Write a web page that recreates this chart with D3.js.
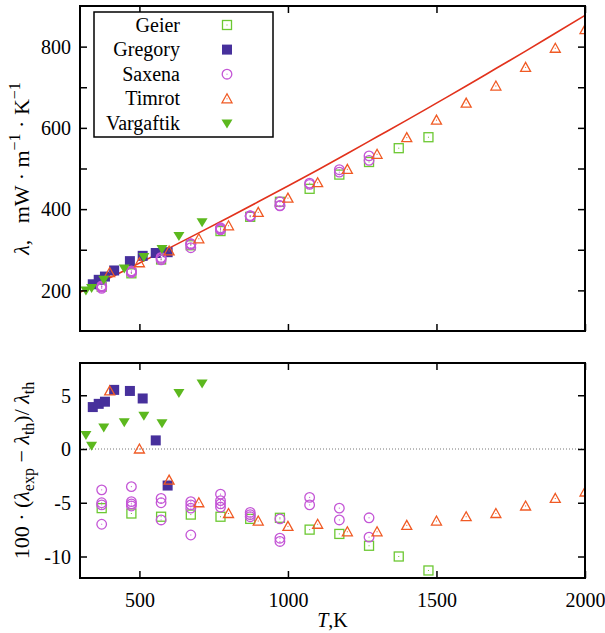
<!DOCTYPE html>
<html>
<head>
<meta charset="utf-8">
<script src="https://cdn.jsdelivr.net/npm/d3@7"></script>
<style>
  body { margin: 0; background: #fff; }
  svg text { font-family: "Liberation Serif", "DejaVu Serif", serif; fill: #000; }
</style>
</head>
<body>
<div id="chart"></div>
<script>
// theoretical curve lambda_th(T)
var thT   = [300, 400, 500, 600, 700, 800, 900, 1000, 1100, 1200, 1300, 1400, 1500, 1600, 1700, 1800, 1900, 2000];
var thLam = [195, 231, 267, 304, 341.5, 379.5, 418, 457, 496.5, 537, 578, 619, 661, 703, 746, 789, 833, 877];

// experimental series: T, lambda, deviation %
var geierT   = [373, 473, 573, 673, 773, 873, 973, 1073, 1173, 1273, 1373, 1473];
var geierLam = [209, 242, 276, 311, 346, 381, 418, 450, 485, 516, 550, 577];
var geierDev = [-5.5, -6.0, -6.3, -6.1, -6.3, -6.5, -6.4, -7.5, -7.9, -9.0, -10.0, -11.3];

var gregoryT   = [343, 363, 384, 415, 468, 511, 555, 595];
var gregoryLam = [215, 226, 234, 249, 272, 285, 292, 294];
var gregoryDev = [3.9, 4.2, 4.4, 5.5, 5.4, 4.7, 0.8, -3.4];

var saxenaT   = [373, 373, 373, 373, 473, 473, 473, 473, 573, 573, 573, 673, 673, 673, 673,
                 773, 773, 773, 773, 873, 873, 873, 973, 973, 973, 1073, 1073, 1173, 1173, 1273, 1273];
var saxenaLam = [211, 209, 208, 205, 248, 245, 244, 244, 281, 279, 275, 315, 314, 313, 305,
                 354, 352, 350, 349, 384, 383, 382, 418, 409, 408, 464, 461, 497, 491, 531, 520];
var saxenaDev = [-3.8, -5.0, -5.2, -7.0, -3.5, -4.9, -5.1, -5.3, -4.6, -5.0, -6.6, -4.9, -5.2, -5.5, -8.0,
                 -4.2, -4.8, -5.1, -5.4, -5.9, -6.1, -6.3, -6.5, -8.3, -8.6, -4.5, -5.2, -5.5, -6.6, -6.4, -8.2];

var timrotT   = [400, 500, 600, 700, 800, 900, 1000, 1100, 1200, 1300, 1400, 1500, 1600, 1700, 1800, 1900, 2000];
var timrotLam = [244, 268, 297, 327, 359, 392, 427, 465, 498, 535, 576, 619, 661, 703, 749, 796, 842];
var timrotDev = [5.4, 0.0, -2.9, -5.0, -6.0, -6.7, -7.2, -7.0, -7.7, -7.7, -7.1, -6.7, -6.3, -6.0, -5.3, -4.6, -4.0];

var vargaftikT   = [320, 339, 380, 449, 515, 576, 633, 711];
var vargaftikLam = [200, 206, 226, 254, 282, 302, 334, 368];
var vargaftikDev = [1.3, 0.3, 2.0, 2.5, 3.1, 2.4, 5.2, 6.1];

var xTicks = [500, 1000, 1500, 2000];
var topYTicks = [200, 300, 400, 500, 600, 700, 800];
var botYTicks = [-10, -5, 0, 5];

var FONT = '"Liberation Serif", "DejaVu Serif", serif';
var W = 605, H = 633;
var svg = d3.select("#chart").append("svg")
    .attr("width", W).attr("height", H);

var left = 80, right = 585;
var topPanel = {t: 6, b: 331};
var botPanel = {t: 363, b: 578};

var x = d3.scaleLinear().domain([300, 2000]).range([left, right]);
var yTop = d3.scaleLinear().domain([100, 900]).range([topPanel.b, topPanel.t]);
var yBot = d3.scaleLinear().domain([-12, 8]).range([botPanel.b, botPanel.t]);

var series = [
  {name: "Geier",     T: geierT,     lam: geierLam,     dev: geierDev,     kind: "osq",  color: "#6cc832"},
  {name: "Gregory",   T: gregoryT,   lam: gregoryLam,   dev: gregoryDev,   kind: "fsq",  color: "#47309c"},
  {name: "Saxena",    T: saxenaT,    lam: saxenaLam,    dev: saxenaDev,    kind: "ocir", color: "#c456d6"},
  {name: "Timrot",    T: timrotT,    lam: timrotLam,    dev: timrotDev,    kind: "otri", color: "#f05a24"},
  {name: "Vargaftik", T: vargaftikT, lam: vargaftikLam, dev: vargaftikDev, kind: "ftri", color: "#5cb81e"}
];

function marker(g, kind, color) {
  if (kind == "osq") {
    g.append("rect").attr("x", -4.5).attr("y", -4.5).attr("width", 9).attr("height", 9)
      .attr("fill", "none").attr("stroke", color).attr("stroke-width", 1.3);
  } else if (kind == "fsq") {
    g.append("rect").attr("x", -5).attr("y", -5).attr("width", 10).attr("height", 10)
      .attr("fill", color);
  } else if (kind == "ocir") {
    g.append("circle").attr("r", 4.8)
      .attr("fill", "none").attr("stroke", color).attr("stroke-width", 1.3);
  } else if (kind == "otri") {
    g.append("path").attr("d", "M0,-5L5,4L-5,4Z")
      .attr("fill", "none").attr("stroke", color).attr("stroke-width", 1.3);
  } else if (kind == "ftri") {
    g.append("path").attr("d", "M-5.5,-4L5.5,-4L0,5Z").attr("fill", color);
  }
  if (kind[0] == "o") {
    g.append("rect").attr("x", -0.5).attr("y", -0.5).attr("width", 1).attr("height", 1)
      .attr("fill", color);
  }
}

// clip paths
var defs = svg.append("defs");
defs.append("clipPath").attr("id", "clipTop").append("rect")
  .attr("x", left).attr("y", topPanel.t).attr("width", right - left).attr("height", topPanel.b - topPanel.t);
defs.append("clipPath").attr("id", "clipBot").append("rect")
  .attr("x", left).attr("y", botPanel.t).attr("width", right - left).attr("height", botPanel.b - botPanel.t);

// ---- top panel ----
var thData = thT.map(function(t, i) { return {T: t, lam: thLam[i]}; });
svg.append("path")
  .datum(thData)
  .attr("clip-path", "url(#clipTop)")
  .attr("fill", "none")
  .attr("stroke", "#e2321c")
  .attr("stroke-width", 1.6)
  .attr("d", d3.line().curve(d3.curveMonotoneX)
    .x(function(d) { return x(d.T); })
    .y(function(d) { return yTop(d.lam); }));

series.forEach(function(s) {
  var pts = s.T.map(function(t, i) { return {T: t, v: s.lam[i]}; });
  svg.append("g").attr("clip-path", "url(#clipTop)")
    .selectAll("g").data(pts).enter().append("g")
    .attr("transform", function(d) { return "translate(" + x(d.T) + "," + yTop(d.v) + ")"; })
    .each(function() { marker(d3.select(this), s.kind, s.color); });
});

// ---- bottom panel ----
svg.append("line")
  .attr("x1", left).attr("x2", right)
  .attr("y1", yBot(0)).attr("y2", yBot(0))
  .attr("stroke", "#777").attr("stroke-width", 1)
  .attr("stroke-dasharray", "1,2");

series.forEach(function(s) {
  var pts = s.T.map(function(t, i) { return {T: t, v: s.dev[i]}; });
  svg.append("g").attr("clip-path", "url(#clipBot)")
    .selectAll("g").data(pts).enter().append("g")
    .attr("transform", function(d) { return "translate(" + x(d.T) + "," + yBot(d.v) + ")"; })
    .each(function() { marker(d3.select(this), s.kind, s.color); });
});

// ---- axes ----
function styleAxis(g) {
  g.attr("font-family", null).attr("font-size", null);
  g.select(".domain").remove();
  g.selectAll(".tick line").attr("stroke", "#000").attr("stroke-width", 1.5);
  g.selectAll(".tick text")
    .style("font-family", FONT)
    .style("font-size", "20px");
}

function panelAxes(panel, y, yTicks, labelFn, showX) {
  svg.append("g").attr("transform", "translate(" + left + ",0)")
    .call(d3.axisLeft(y).tickValues(yTicks).tickSize(-7).tickPadding(9).tickFormat(labelFn))
    .call(styleAxis)
    .selectAll(".tick text").attr("dy", "0.34em");
  svg.append("g").attr("transform", "translate(" + right + ",0)")
    .call(d3.axisRight(y).tickValues(yTicks).tickSize(-7).tickFormat(""))
    .call(styleAxis);
  var bx = svg.append("g").attr("transform", "translate(0," + panel.b + ")")
    .call(d3.axisBottom(x).tickValues(xTicks).tickSize(-7).tickPadding(15)
      .tickFormat(showX ? d3.format("d") : ""))
    .call(styleAxis);
  bx.selectAll(".tick text").attr("dy", "0.71em");
  svg.append("g").attr("transform", "translate(0," + panel.t + ")")
    .call(d3.axisTop(x).tickValues(xTicks).tickSize(-7).tickFormat(""))
    .call(styleAxis);
  svg.append("rect")
    .attr("x", left).attr("y", panel.t)
    .attr("width", right - left).attr("height", panel.b - panel.t)
    .attr("fill", "none").attr("stroke", "#000").attr("stroke-width", 2);
}

panelAxes(topPanel, yTop, topYTicks,
  function(d) { return d % 200 == 0 ? d : ""; }, false);
panelAxes(botPanel, yBot, botYTicks,
  function(d) { return d; }, true);

// ---- legend ----
var lg = svg.append("g");
lg.append("rect")
  .attr("x", 94).attr("y", 12).attr("width", 179).attr("height", 125)
  .attr("fill", "#fff").attr("stroke", "#000").attr("stroke-width", 1.5);
series.forEach(function(s, i) {
  var cy = 25 + i * 24.6;
  lg.append("text")
    .attr("x", 180).attr("y", cy + 6.5)
    .attr("text-anchor", "end")
    .style("font-family", FONT)
    .style("font-size", "20px")
    .text(s.name);
  var m = lg.append("g").attr("transform", "translate(227," + cy + ")");
  marker(m, s.kind, s.color);
});

// ---- axis titles ----
var t1 = svg.append("text")
  .attr("transform", "translate(29," + ((topPanel.t + topPanel.b) / 2) + ") rotate(-90)")
  .attr("text-anchor", "middle")
  .style("font-family", FONT)
  .style("font-size", "22px")
  .style("white-space", "pre");
t1.append("tspan").style("font-style", "italic").text("λ");
t1.append("tspan").text(",   mW · m");
t1.append("tspan").attr("dy", -9).style("font-size", "16px").text("−1");
t1.append("tspan").attr("dy", 9).text(" · K");
t1.append("tspan").attr("dy", -9).style("font-size", "16px").text("−1");

var t2 = svg.append("text")
  .attr("transform", "translate(29," + ((botPanel.t + botPanel.b) / 2) + ") rotate(-90)")
  .attr("text-anchor", "middle")
  .style("font-family", FONT)
  .style("font-size", "22px")
  .style("white-space", "pre");
t2.append("tspan").text("100 · (");
t2.append("tspan").style("font-style", "italic").text("λ");
t2.append("tspan").attr("dy", 5).style("font-size", "16px").text("exp");
t2.append("tspan").attr("dy", -5).text(" − ");
t2.append("tspan").style("font-style", "italic").text("λ");
t2.append("tspan").attr("dy", 5).style("font-size", "16px").text("th");
t2.append("tspan").attr("dy", -5).text(")/ ");
t2.append("tspan").style("font-style", "italic").text("λ");
t2.append("tspan").attr("dy", 5).style("font-size", "16px").text("th");

var t3 = svg.append("text")
  .attr("x", (left + right) / 2).attr("y", 627)
  .attr("text-anchor", "middle")
  .style("font-family", FONT)
  .style("font-size", "20px");
t3.append("tspan").style("font-style", "italic").text("T");
t3.append("tspan").text(",K");
</script>
</body>
</html>
